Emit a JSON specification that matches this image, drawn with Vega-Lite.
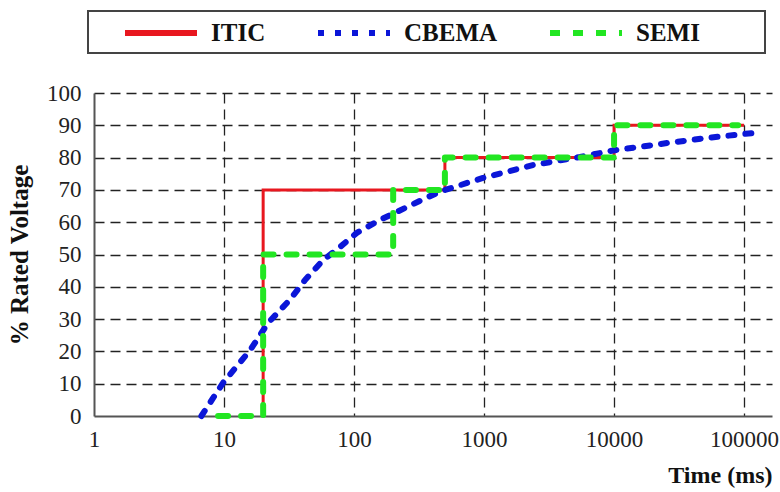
{
  "$schema": "https://vega.github.io/schema/vega-lite/v6.json",
  "width": 678,
  "height": 323,
  "autosize": {"type": "none"},
  "padding": {"left": 94, "top": 93, "right": 8, "bottom": 76},
  "background": "white",
  "config": {
    "view": {"stroke": null},
    "font": "Liberation Serif",
    "legend": {
      "orient": "none",
      "legendX": -6,
      "legendY": -82,
      "direction": "horizontal",
      "columns": 3,
      "columnPadding": 22,
      "padding": 7,
      "strokeColor": "#444",
      "strokeWidth": 2,
      "titleOrient": "right",
      "titleFontSize": 10,
      "titlePadding": 58,
      "symbolType": "M-3,0H3",
      "symbolSize": 576,
      "symbolStrokeWidth": 6,
      "symbolOffset": 51,
      "labelFont": "Liberation Serif",
      "labelFontSize": 25,
      "labelFontWeight": "bold",
      "labelColor": "#111",
      "labelOffset": 35
    }
  },
  "data": {
    "values": [
      {"series": "ITIC", "t": 20, "v": 0, "i": 0},
      {"series": "ITIC", "t": 20, "v": 70, "i": 1},
      {"series": "ITIC", "t": 500, "v": 70, "i": 2},
      {"series": "ITIC", "t": 500, "v": 80, "i": 3},
      {"series": "ITIC", "t": 10000, "v": 80, "i": 4},
      {"series": "ITIC", "t": 10000, "v": 90, "i": 5},
      {"series": "ITIC", "t": 100000, "v": 90, "i": 6},

      {"series": "CBEMA", "t": 6.7, "v": 0, "i": 0},
      {"series": "CBEMA", "t": 9.8, "v": 10.2, "i": 1},
      {"series": "CBEMA", "t": 15.9, "v": 20.4, "i": 2},
      {"series": "CBEMA", "t": 21.8, "v": 28.8, "i": 3},
      {"series": "CBEMA", "t": 32, "v": 35.9, "i": 4},
      {"series": "CBEMA", "t": 42, "v": 42.1, "i": 5},
      {"series": "CBEMA", "t": 58, "v": 48.3, "i": 6},
      {"series": "CBEMA", "t": 78, "v": 52.3, "i": 7},
      {"series": "CBEMA", "t": 105, "v": 56.7, "i": 8},
      {"series": "CBEMA", "t": 158, "v": 60.7, "i": 9},
      {"series": "CBEMA", "t": 256, "v": 64.7, "i": 10},
      {"series": "CBEMA", "t": 371, "v": 67.8, "i": 11},
      {"series": "CBEMA", "t": 484, "v": 69.8, "i": 12},
      {"series": "CBEMA", "t": 982, "v": 73.7, "i": 13},
      {"series": "CBEMA", "t": 2385, "v": 77.7, "i": 14},
      {"series": "CBEMA", "t": 5470, "v": 80.2, "i": 15},
      {"series": "CBEMA", "t": 9820, "v": 82.2, "i": 16},
      {"series": "CBEMA", "t": 25600, "v": 84.5, "i": 17},
      {"series": "CBEMA", "t": 51900, "v": 86.1, "i": 18},
      {"series": "CBEMA", "t": 117000, "v": 87.6, "i": 19},

      {"series": "SEMI", "t": 9, "v": 0, "i": 0},
      {"series": "SEMI", "t": 20, "v": 0, "i": 1},
      {"series": "SEMI", "t": 20, "v": 50, "i": 2},
      {"series": "SEMI", "t": 200, "v": 50, "i": 3},
      {"series": "SEMI", "t": 200, "v": 70, "i": 4},
      {"series": "SEMI", "t": 500, "v": 70, "i": 5},
      {"series": "SEMI", "t": 500, "v": 80, "i": 6},
      {"series": "SEMI", "t": 10000, "v": 80, "i": 7},
      {"series": "SEMI", "t": 10000, "v": 90, "i": 8},
      {"series": "SEMI", "t": 90000, "v": 90, "i": 9}
    ]
  },
  "encoding": {
    "x": {
      "field": "t",
      "type": "quantitative",
      "scale": {"type": "log", "domain": [1, 164000], "nice": false},
      "axis": {
        "values": [1, 10, 100, 1000, 10000, 100000],
        "format": "d",
        "labelFont": "Liberation Serif",
        "labelFontSize": 23,
        "labelColor": "#222",
        "labelPadding": 12,
        "labelFlush": false,
        "labelOverlap": false,
        "ticks": false,
        "tickSize": 0,
        "domainColor": "#555",
        "domainWidth": 2,
        "grid": true,
        "gridColor": "#222",
        "gridDash": [10, 6],
        "gridWidth": 1.3,
        "gridOpacity": {"condition": {"test": "datum.value <= 1", "value": 0}, "value": 1},
        "title": "Time (ms)",
        "titleFont": "Liberation Serif",
        "titleFontSize": 24,
        "titleFontWeight": "bold",
        "titleColor": "#111",
        "titleAnchor": "end",
        "titlePadding": 12
      }
    },
    "y": {
      "field": "v",
      "type": "quantitative",
      "scale": {"domain": [0, 100], "nice": false},
      "axis": {
        "values": [0, 10, 20, 30, 40, 50, 60, 70, 80, 90, 100],
        "labelFont": "Liberation Serif",
        "labelFontSize": 23,
        "labelColor": "#222",
        "labelPadding": 13,
        "labelFlush": false,
        "labelOverlap": false,
        "ticks": false,
        "tickSize": 0,
        "domainColor": "#555",
        "domainWidth": 2,
        "grid": true,
        "gridColor": "#222",
        "gridDash": [10, 6],
        "gridWidth": 1.3,
        "gridOpacity": {"condition": {"test": "datum.value == 0", "value": 0}, "value": 1},
        "title": "% Rated Voltage",
        "titleFont": "Liberation Serif",
        "titleFontSize": 25,
        "titleFontWeight": "bold",
        "titleColor": "#111",
        "titlePadding": 14
      }
    },
    "color": {
      "field": "series",
      "type": "nominal",
      "title": " ",
      "scale": {"domain": ["ITIC", "CBEMA", "SEMI"], "range": ["#e8171f", "#0b16d8", "#22e622"]}
    },
    "strokeDash": {
      "field": "series",
      "type": "nominal",
      "title": " ",
      "scale": {"domain": ["ITIC", "CBEMA", "SEMI"], "range": [[1, 0], [6, 11], [10, 13]]}
    },
    "order": {"field": "i", "type": "quantitative"}
  },
  "layer": [
    {
      "transform": [{"filter": "datum.series === 'ITIC'"}],
      "mark": {"type": "line", "strokeWidth": 3, "strokeCap": "butt", "strokeJoin": "miter"}
    },
    {
      "transform": [{"filter": "datum.series === 'CBEMA'"}],
      "mark": {"type": "line", "strokeWidth": 6, "strokeCap": "round", "strokeJoin": "round"}
    },
    {
      "transform": [{"filter": "datum.series === 'SEMI'"}],
      "mark": {"type": "line", "strokeWidth": 6, "strokeCap": "round", "strokeJoin": "round"}
    }
  ]
}
